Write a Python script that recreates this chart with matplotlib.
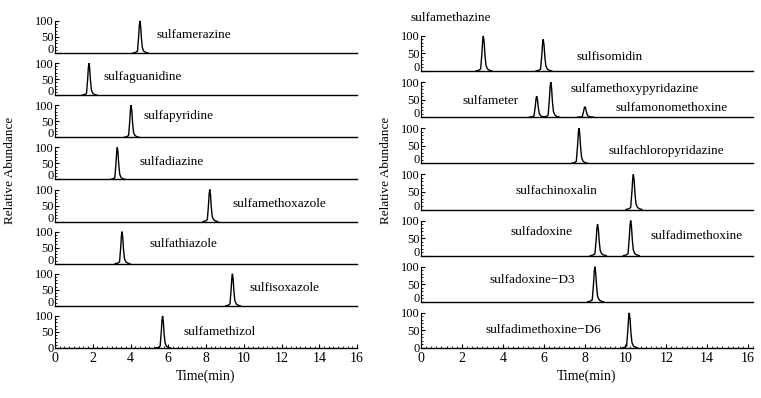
import matplotlib
matplotlib.use("Agg")
import matplotlib.pyplot as plt
import numpy as np
from matplotlib.ticker import MultipleLocator, FixedLocator

plt.rcParams['font.family'] = ['Liberation Serif', 'DejaVu Serif']

# ---------------- data ----------------
# left panel: one compound per row
left_names = ["sulfamerazine", "sulfaguanidine", "sulfapyridine", "sulfadiazine",
              "sulfamethoxazole", "sulfathiazole", "sulfisoxazole", "sulfamethizol"]
left_rt = [4.5, 1.8, 4.03, 3.3, 8.2, 3.55, 9.4, 5.7]
left_height = [100, 100, 100, 100, 100, 100, 100, 100]
left_label_x = [5.4, 2.55, 4.7, 4.5, 9.4, 5.0, 10.3, 6.8]
left_label_y = [56, 56, 66, 53, 56, 62, 56, 50]

# right panel: rows can contain several peaks
right_rows_rt = [[3.05, 5.98], [5.66, 6.35, 8.02], [7.73], [10.39],
                 [8.64, 10.26], [8.51], [10.19]]
right_rows_height = [[100, 90], [60, 100, 30], [100], [100],
                     [90, 100], [100], [100]]
right_rows_names = [["sulfamethazine", "sulfisomidin"],
                    ["sulfameter", "sulfamethoxypyridazine", "sulfamonomethoxine"],
                    ["sulfachloropyridazine"], ["sulfachinoxalin"],
                    ["sulfadoxine", "sulfadimethoxine"], ["sulfadoxine\u2212D3"],
                    ["sulfadimethoxine\u2212D6"]]
right_label_x = [[-0.5, 7.6], [2.04, 7.3, 9.54], [9.16], [4.6],
                 [4.39, 11.24], [3.37], [3.18]]
right_label_y = [[151, 40], [46, 80, 26], [35], [52], [66, 55], [61], [51]]

# peak shape (offset in min, relative intensity %)
shape_dx = [-0.36, -0.22, -0.13, -0.07, -0.03, 0.0, 0.04, 0.08, 0.13, 0.20, 0.30, 0.42]
shape_y = [0, 2, 6, 50, 88, 100, 82, 45, 16, 6, 2, 0]

x_ticks = [0, 2, 4, 6, 8, 10, 12, 14, 16]
y_ticks = [0, 50, 100]

# ---------------- figure ----------------
W, H = 761, 398
fig = plt.figure(figsize=(W / 100, H / 100), dpi=100)

def draw_peaks(ax, rts, heights):
    for rt, h in zip(rts, heights):
        xs = [rt + d for d in shape_dx]
        ys = [h * v / 100 for v in shape_y]
        ax.plot(xs, ys, color="black", lw=1.0, solid_joinstyle="miter")

def style_axis(ax, xmax, is_bottom):
    ax.set_xlim(0, xmax)
    ax.set_ylim(0, 131)
    for s in ["top", "right"]:
        ax.spines[s].set_visible(False)
    ax.spines["left"].set_bounds(0, 100)
    ax.spines["left"].set_linewidth(0.8)
    ax.spines["bottom"].set_linewidth(1.0)
    ax.set_yticks(y_ticks)
    ax.yaxis.set_minor_locator(FixedLocator([10, 20, 30, 40, 60, 70, 80, 90]))
    ax.tick_params(axis="y", which="major", direction="in", length=3, width=0.8,
                   labelsize=9, pad=1)
    ax.tick_params(axis="y", which="minor", direction="in", length=1.6, width=0.6)
    ax.patch.set_alpha(0)
    if is_bottom:
        ax.set_xticks(x_ticks)
        ax.xaxis.set_minor_locator(MultipleLocator(0.25))
        ax.tick_params(axis="x", which="major", direction="in", length=3, width=0.8,
                       labelsize=10, pad=3)
        ax.tick_params(axis="x", which="minor", direction="in", length=1.5, width=0.6)
        ax.set_xlabel("Time(min)", fontsize=10, labelpad=3)
    else:
        ax.set_xticks([])
        # lift the "0" label so it does not run into the next row's "100"
        ax.yaxis.get_major_ticks()[0].label1.set_va("baseline")

# left panel
Lx0, Lw = 55, 302
Lbase0, Lpitch = 53, (348 - 53) / 7
for i, name in enumerate(left_names):
    base = Lbase0 + i * Lpitch
    ax = fig.add_axes([Lx0 / W, 1 - base / H, Lw / W, 42 / H])
    draw_peaks(ax, [left_rt[i]], [left_height[i]])
    style_axis(ax, 16, i == len(left_names) - 1)
    ax.text(left_label_x[i], left_label_y[i], name, fontsize=9.5, va="center",
            ha="left")

# right panel
Rx0 = 421
Rpx_per_min = 327 / 16
Rxmax = 16.25
Rbase0, Rpitch = 71, (348 - 71) / 6
for i in range(len(right_rows_rt)):
    base = Rbase0 + i * Rpitch
    ax = fig.add_axes([Rx0 / W, 1 - base / H, Rxmax * Rpx_per_min / W, 46 / H])
    draw_peaks(ax, right_rows_rt[i], right_rows_height[i])
    style_axis(ax, Rxmax, i == len(right_rows_rt) - 1)
    for nm, lx, ly in zip(right_rows_names[i], right_label_x[i], right_label_y[i]):
        ax.text(lx, ly, nm, fontsize=9.5, va="center", ha="left", clip_on=False)

# y labels
fig.text(10 / W, 1 - 170 / H, "Relative Abundance", rotation=90, fontsize=9.5,
         ha="center", va="center")
fig.text(386 / W, 1 - 170 / H, "Relative Abundance", rotation=90, fontsize=9.5,
         ha="center", va="center")

fig.savefig("out.png", dpi=100)
